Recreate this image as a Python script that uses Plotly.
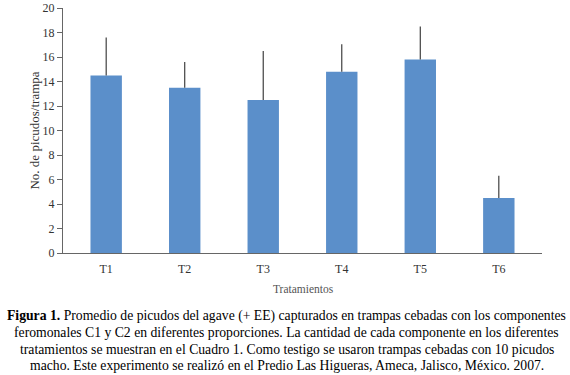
import plotly.graph_objects as go

categories = ["T1", "T2", "T3", "T4", "T5", "T6"]
means = [14.5, 13.5, 12.5, 14.8, 15.8, 4.5]
errors = [3.1, 2.1, 4.0, 2.25, 2.7, 1.8]
y_ticks = [0, 2, 4, 6, 8, 10, 12, 14, 16, 18, 20]

fig = go.Figure()
fig.add_trace(go.Bar(
    x=categories, y=means,
    marker=dict(color="#5b8fca", line=dict(width=0)),
    width=0.4,
    error_y=dict(type="data", symmetric=False, array=errors,
                 arrayminus=[0] * len(errors), color="#404040",
                 thickness=1.2, width=0),
))

serif = "Liberation Serif, Times New Roman, serif"
fig.update_layout(
    width=570, height=375,
    margin=dict(l=63, r=28, t=8, b=122, autoexpand=False),
    paper_bgcolor="white", plot_bgcolor="white",
    showlegend=False,
    font=dict(family=serif, color="#333333", size=12),
    xaxis=dict(showline=True, linecolor="#666666", linewidth=1,
               ticks="outside", ticklen=5, tickcolor="rgba(0,0,0,0)",
               tickfont=dict(size=12, family=serif, color="#333333"),
               showgrid=False, range=[-0.55, 5.55], automargin=False),
    yaxis=dict(range=[0, 20], tickvals=y_ticks, showline=True,
               linecolor="#666666", linewidth=1, ticks="outside",
               ticklen=5, tickcolor="#666666", showgrid=False, zeroline=False,
               automargin=False,
               tickfont=dict(size=12, family=serif, color="#333333"),
               title=dict(text="No. de picudos/trampa", standoff=0,
                          font=dict(size=13, family=serif, color="#333333"))),
)

def py(pix):
    return (253 - pix) / 245.0

def px(pix):
    return (pix - 63) / 479.0

fig.add_annotation(text="Tratamientos", xref="paper", yref="paper",
                   x=px(303), y=py(297), showarrow=False,
                   font=dict(size=11.5, family=serif, color="#555555"))

lines = [
    "<b>Figura 1.</b> Promedio de picudos del agave (+ EE) capturados en trampas cebadas con los componentes",
    "feromonales C1 y C2 en diferentes proporciones. La cantidad de cada componente en los diferentes",
    "tratamientos se muestran en el Cuadro 1. Como testigo se usaron trampas cebadas con 10 picudos",
    "macho. Este experimento se realizó en el Predio Las Higueras, Ameca, Jalisco, México. 2007.",
]
ys = [316, 332.5, 349, 365.5]
for t, yy in zip(lines, ys):
    fig.add_annotation(text=t, xref="paper", yref="paper",
                       x=px(286.5), y=py(yy), showarrow=False,
                       xanchor="center", yanchor="middle",
                       font=dict(size=13.7, family=serif, color="black"))

fig.write_html("out.html", config={"displayModeBar": False},
               post_script="document.body.style.margin='0';document.body.style.overflow='hidden';")
